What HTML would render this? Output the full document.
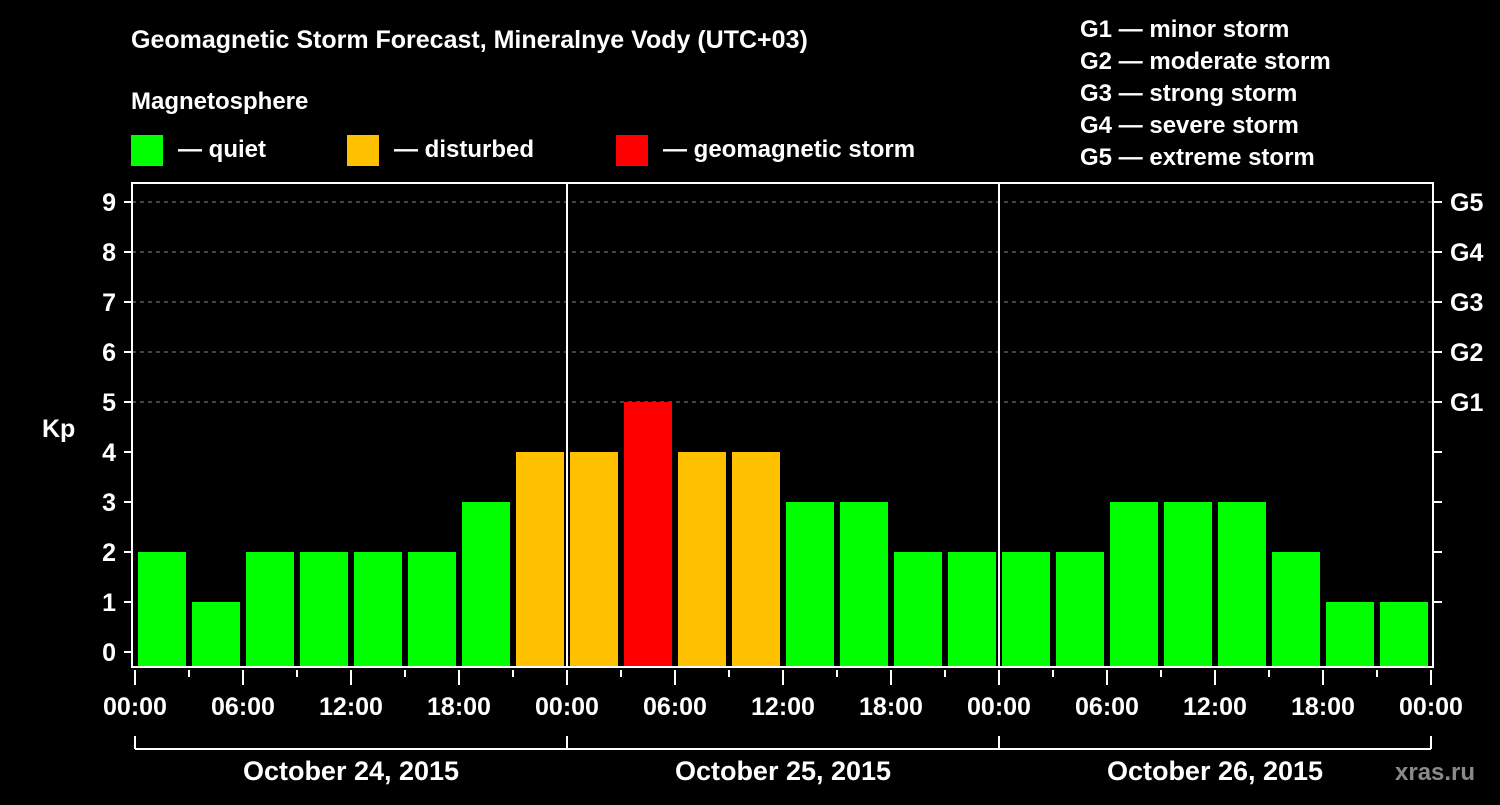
<!DOCTYPE html>
<html><head><meta charset="utf-8"><style>
body{margin:0;background:#000;width:1500px;height:800px;overflow:hidden;font-family:"Liberation Sans",sans-serif}
svg text{font-family:"Liberation Sans",sans-serif;font-weight:bold;fill:#fff}
</style></head><body>
<svg id="c" width="1500" height="800">
<text x="131" y="48" font-size="25">Geomagnetic Storm Forecast, Mineralnye Vody (UTC+03)</text>
<text x="131" y="109" font-size="24">Magnetosphere</text>
<rect x="131" y="135" width="32" height="31" fill="#00ff00"/>
<text x="178" y="157" font-size="24">— quiet</text>
<rect x="347" y="135" width="32" height="31" fill="#ffc000"/>
<text x="394" y="157" font-size="24">— disturbed</text>
<rect x="616" y="135" width="32" height="31" fill="#ff0000"/>
<text x="663" y="157" font-size="24">— geomagnetic storm</text>
<g font-size="24">
<text x="1080" y="37">G1 — minor storm</text>
<text x="1080" y="69">G2 — moderate storm</text>
<text x="1080" y="101">G3 — strong storm</text>
<text x="1080" y="133">G4 — severe storm</text>
<text x="1080" y="165">G5 — extreme storm</text>
</g>
<text x="42" y="437" font-size="25">Kp</text>
<text x="1395" y="780" font-size="24" fill="#888" style="fill:#8a8a8a">xras.ru</text>
<g id="plot"></g>
</svg>
<script>
const kpValues=[2,1,2,2,2,2,3,4,4,5,4,4,3,3,2,2,2,2,3,3,3,2,1,1];
const yTicks=[0,1,2,3,4,5,6,7,8,9];
const gLabels=["G1","G2","G3","G4","G5"];
const hourLabels=["00:00","06:00","12:00","18:00"];
const dayLabels=["October 24, 2015","October 25, 2015","October 26, 2015"];
const NS="http://www.w3.org/2000/svg";
const g=document.getElementById('plot');
const X0=135,PX_PER_H=18,Y0=652,PX_PER_KP=50,L=132,R=1433,T=183,B=667;
const xs=h=>X0+h*PX_PER_H, ys=v=>Y0-v*PX_PER_KP;
function mk(tag,a){const e=document.createElementNS(NS,tag);for(const k in a)e.setAttribute(k,a[k]);g.appendChild(e);return e;}
// grid
yTicks.filter(v=>v>=5).forEach(v=>{const e=mk('line',{x1:L,x2:R,y1:ys(v),y2:ys(v),stroke:'#888','stroke-dasharray':'4 4','stroke-width':1});

});
// bars
kpValues.forEach((v,i)=>{const c=v>=5?'#ff0000':v>=4?'#ffc000':'#00ff00';
const e=mk('rect',{x:xs(i*3)+3,y:ys(v),width:3*PX_PER_H-6,height:B-ys(v),fill:c});

});
// day separators
[1,2].forEach(d=>{const e=mk('line',{x1:xs(d*24),x2:xs(d*24),y1:T,y2:B,stroke:'#fff','stroke-width':2});

});
// frame
const f=mk('rect',{x:L,y:T,width:R-L,height:B-T,fill:'none',stroke:'#fff','stroke-width':2});


// y ticks
yTicks.forEach(v=>{mk('line',{x1:124,x2:L,y1:ys(v),y2:ys(v),stroke:'#fff','stroke-width':2});
if(v>0)mk('line',{x1:R,x2:1442,y1:ys(v),y2:ys(v),stroke:'#fff','stroke-width':2});
const t=mk('text',{x:116,y:ys(v)+9,'font-size':25,'text-anchor':'end'});t.textContent=v;

});
gLabels.forEach((s,i)=>{const t=mk('text',{x:1450,y:ys(i+5)+9,'font-size':25});t.textContent=s;

});
// x ticks
for(let h=0;h<=72;h+=3){const major=h%6===0;
mk('line',{x1:xs(h),x2:xs(h),y1:670,y2:major?685:677,stroke:'#fff','stroke-width':2});
if(major){const t=mk('text',{x:xs(h),y:715,'font-size':25,'text-anchor':'middle'});t.textContent=hourLabels[(h%24)/6];

}}
// day bracket
mk('line',{x1:xs(0),x2:xs(72),y1:749,y2:749,stroke:'#fff','stroke-width':2});
for(let d=0;d<=3;d++)mk('line',{x1:xs(d*24),x2:xs(d*24),y1:736,y2:749,stroke:'#fff','stroke-width':2});
dayLabels.forEach((s,d)=>{const t=mk('text',{x:xs(d*24+12),y:780,'font-size':27,'text-anchor':'middle'});t.textContent=s;

});
</script>
</body></html>
